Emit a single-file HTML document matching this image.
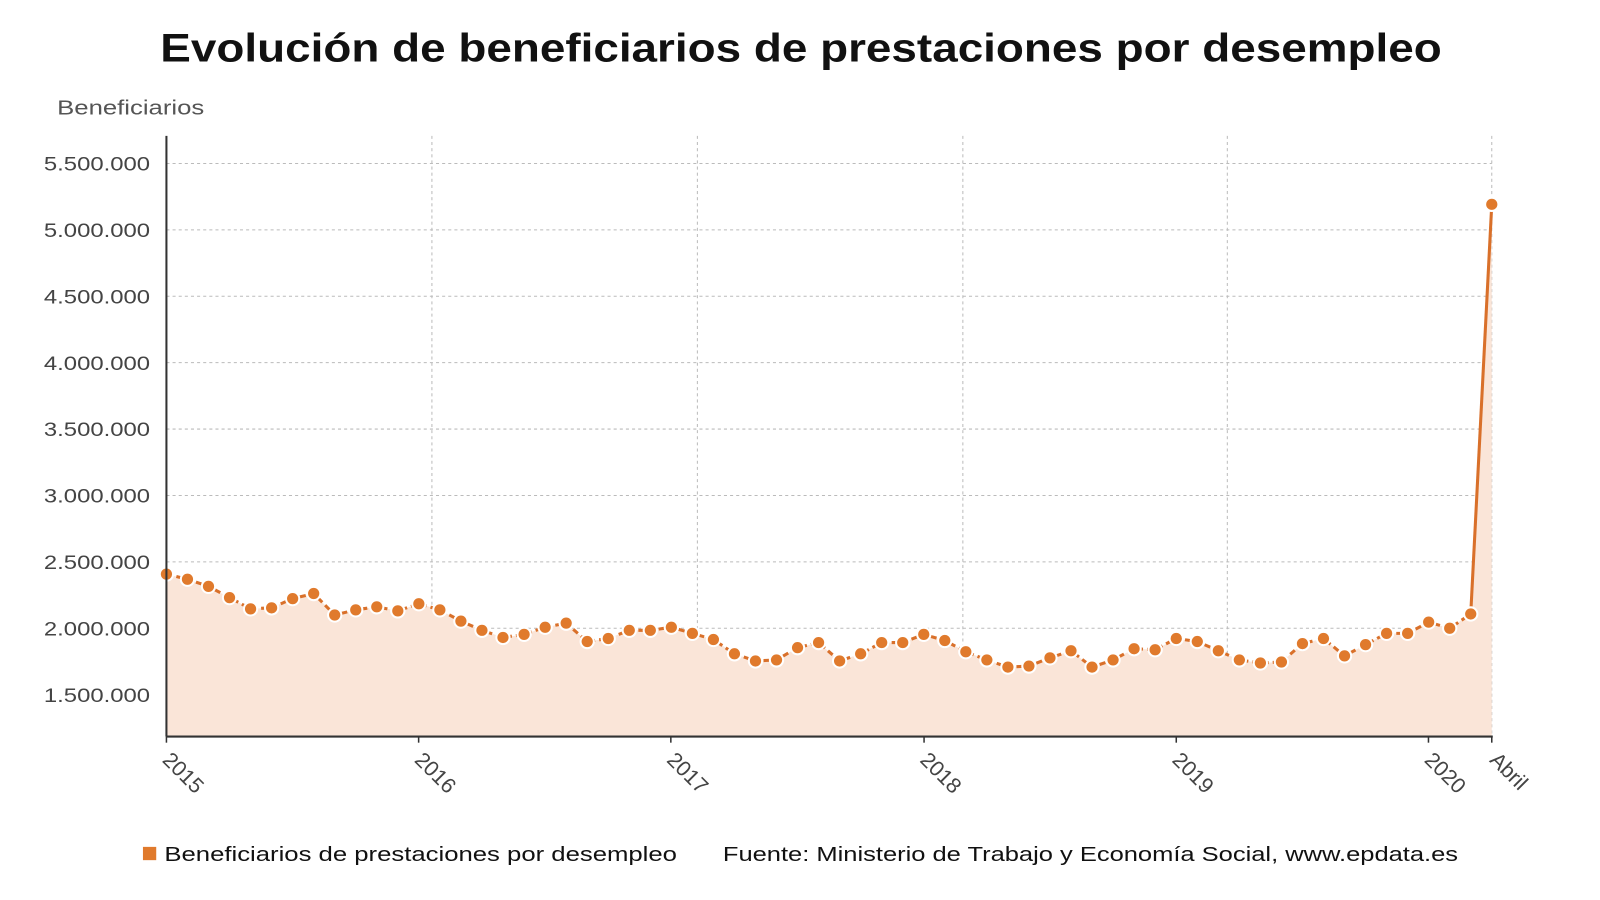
<!DOCTYPE html>
<html><head><meta charset="utf-8"><style>
html,body{margin:0;padding:0;background:#fff;width:1600px;height:900px;overflow:hidden}
svg{display:block}
text{font-family:"Liberation Sans",sans-serif}
</style></head><body>
<svg width="1600" height="900" viewBox="0 0 1567 881" preserveAspectRatio="none" xmlns="http://www.w3.org/2000/svg">
<text x="157" y="60" font-size="39" font-weight="bold" fill="#111" textLength="1255" lengthAdjust="spacingAndGlyphs">Evolución de beneficiarios de prestaciones por desempleo</text>
<text x="56" y="112" font-size="20" fill="#555" textLength="144" lengthAdjust="spacingAndGlyphs">Beneficiarios</text>
<g stroke="#bbb" stroke-width="1" stroke-dasharray="3,3">
<line x1="163" x2="1461" y1="160" y2="160"/><line x1="163" x2="1461" y1="225" y2="225"/>
<line x1="163" x2="1461" y1="290" y2="290"/><line x1="163" x2="1461" y1="355" y2="355"/>
<line x1="163" x2="1461" y1="420" y2="420"/><line x1="163" x2="1461" y1="485" y2="485"/>
<line x1="163" x2="1461" y1="550" y2="550"/><line x1="163" x2="1461" y1="615" y2="615"/>
<line x1="163" x2="1461" y1="680" y2="680"/>
<line x1="423" x2="423" y1="133" y2="720"/><line x1="683" x2="683" y1="133" y2="720"/>
<line x1="943" x2="943" y1="133" y2="720"/><line x1="1202" x2="1202" y1="133" y2="720"/>
<line x1="1461" x2="1461" y1="133" y2="720"/>
</g>
<g font-size="19" fill="#444">
<text x="43" y="167" textLength="104" lengthAdjust="spacingAndGlyphs">5.500.000</text><text x="43" y="232" textLength="104" lengthAdjust="spacingAndGlyphs">5.000.000</text>
<text x="43" y="297" textLength="104" lengthAdjust="spacingAndGlyphs">4.500.000</text><text x="43" y="362" textLength="104" lengthAdjust="spacingAndGlyphs">4.000.000</text>
<text x="43" y="427" textLength="104" lengthAdjust="spacingAndGlyphs">3.500.000</text><text x="43" y="492" textLength="104" lengthAdjust="spacingAndGlyphs">3.000.000</text>
<text x="43" y="557" textLength="104" lengthAdjust="spacingAndGlyphs">2.500.000</text><text x="43" y="622" textLength="104" lengthAdjust="spacingAndGlyphs">2.000.000</text>
<text x="43" y="687" textLength="104" lengthAdjust="spacingAndGlyphs">1.500.000</text>
</g>
<polygon fill="#fae5d8" points="163,562 183.6,567 204.2,574 224.8,585 245.4,596 266,595 286.6,586 307.2,581 327.8,602 348.4,597 369,594 389.6,598 410.2,591 430.8,597 451.4,608 472,617 492.6,624 513.3,621 533.9,614 554.5,610 575.1,628 595.7,625 616.3,617 636.9,617 657.5,614 678.1,620 698.7,626 719.3,640 739.9,647 760.5,646 781.1,634 801.7,629 822.3,647 842.9,640 863.5,629 884.1,629 904.7,621 925.3,627 945.9,638 966.5,646 987.1,653 1007.7,652 1028.3,644 1048.9,637 1069.5,653 1090.1,646 1110.7,635 1131.3,636 1152,625 1172.6,628 1193.2,637 1213.8,646 1234.4,649 1255,648 1275.6,630 1296.2,625 1316.8,642 1337.4,631 1358,620 1378.6,620 1399.2,609 1419.8,615 1440.4,601 1461,200 1461,721 163,721"/>
<polyline fill="none" stroke="#d9702a" stroke-width="3" stroke-dasharray="6,4" points="163,562 183.6,567 204.2,574 224.8,585 245.4,596 266,595 286.6,586 307.2,581 327.8,602 348.4,597 369,594 389.6,598 410.2,591 430.8,597 451.4,608 472,617 492.6,624 513.3,621 533.9,614 554.5,610 575.1,628 595.7,625 616.3,617 636.9,617 657.5,614 678.1,620 698.7,626 719.3,640 739.9,647 760.5,646 781.1,634 801.7,629 822.3,647 842.9,640 863.5,629 884.1,629 904.7,621 925.3,627 945.9,638 966.5,646 987.1,653 1007.7,652 1028.3,644 1048.9,637 1069.5,653 1090.1,646 1110.7,635 1131.3,636 1152,625 1172.6,628 1193.2,637 1213.8,646 1234.4,649 1255,648 1275.6,630 1296.2,625 1316.8,642 1337.4,631 1358,620 1378.6,620 1399.2,609 1419.8,615 1440.4,601"/>
<line x1="1440.4" y1="601" x2="1461" y2="200" stroke="#d9702a" stroke-width="3"/>
<g fill="#e07a2c" stroke="#fff" stroke-width="2">
<circle r="6.5" cx="163" cy="562"/><circle r="6.5" cx="183.6" cy="567"/><circle r="6.5" cx="204.2" cy="574"/><circle r="6.5" cx="224.8" cy="585"/><circle r="6.5" cx="245.4" cy="596"/><circle r="6.5" cx="266" cy="595"/><circle r="6.5" cx="286.6" cy="586"/><circle r="6.5" cx="307.2" cy="581"/><circle r="6.5" cx="327.8" cy="602"/><circle r="6.5" cx="348.4" cy="597"/><circle r="6.5" cx="369" cy="594"/><circle r="6.5" cx="389.6" cy="598"/>
<circle r="6.5" cx="410.2" cy="591"/><circle r="6.5" cx="430.8" cy="597"/><circle r="6.5" cx="451.4" cy="608"/><circle r="6.5" cx="472" cy="617"/><circle r="6.5" cx="492.6" cy="624"/><circle r="6.5" cx="513.3" cy="621"/><circle r="6.5" cx="533.9" cy="614"/><circle r="6.5" cx="554.5" cy="610"/><circle r="6.5" cx="575.1" cy="628"/><circle r="6.5" cx="595.7" cy="625"/><circle r="6.5" cx="616.3" cy="617"/><circle r="6.5" cx="636.9" cy="617"/>
<circle r="6.5" cx="657.5" cy="614"/><circle r="6.5" cx="678.1" cy="620"/><circle r="6.5" cx="698.7" cy="626"/><circle r="6.5" cx="719.3" cy="640"/><circle r="6.5" cx="739.9" cy="647"/><circle r="6.5" cx="760.5" cy="646"/><circle r="6.5" cx="781.1" cy="634"/><circle r="6.5" cx="801.7" cy="629"/><circle r="6.5" cx="822.3" cy="647"/><circle r="6.5" cx="842.9" cy="640"/><circle r="6.5" cx="863.5" cy="629"/><circle r="6.5" cx="884.1" cy="629"/>
<circle r="6.5" cx="904.7" cy="621"/><circle r="6.5" cx="925.3" cy="627"/><circle r="6.5" cx="945.9" cy="638"/><circle r="6.5" cx="966.5" cy="646"/><circle r="6.5" cx="987.1" cy="653"/><circle r="6.5" cx="1007.7" cy="652"/><circle r="6.5" cx="1028.3" cy="644"/><circle r="6.5" cx="1048.9" cy="637"/><circle r="6.5" cx="1069.5" cy="653"/><circle r="6.5" cx="1090.1" cy="646"/><circle r="6.5" cx="1110.7" cy="635"/><circle r="6.5" cx="1131.3" cy="636"/>
<circle r="6.5" cx="1152" cy="625"/><circle r="6.5" cx="1172.6" cy="628"/><circle r="6.5" cx="1193.2" cy="637"/><circle r="6.5" cx="1213.8" cy="646"/><circle r="6.5" cx="1234.4" cy="649"/><circle r="6.5" cx="1255" cy="648"/><circle r="6.5" cx="1275.6" cy="630"/><circle r="6.5" cx="1296.2" cy="625"/><circle r="6.5" cx="1316.8" cy="642"/><circle r="6.5" cx="1337.4" cy="631"/><circle r="6.5" cx="1358" cy="620"/><circle r="6.5" cx="1378.6" cy="620"/>
<circle r="6.5" cx="1399.2" cy="609"/><circle r="6.5" cx="1419.8" cy="615"/><circle r="6.5" cx="1440.4" cy="601"/><circle r="6.5" cx="1461" cy="200"/>
</g>
<line x1="163" x2="163" y1="133" y2="721" stroke="#333" stroke-width="2"/>
<line x1="163" x2="1462" y1="721" y2="721" stroke="#333" stroke-width="2"/>
<g stroke="#333" stroke-width="1.5">
<line x1="163" x2="163" y1="721" y2="727"/><line x1="410" x2="410" y1="721" y2="727"/>
<line x1="657" x2="657" y1="721" y2="727"/><line x1="905" x2="905" y1="721" y2="727"/>
<line x1="1152" x2="1152" y1="721" y2="727"/><line x1="1399" x2="1399" y1="721" y2="727"/>
<line x1="1461" x2="1461" y1="721" y2="727"/>
</g>
<g font-size="21" fill="#444">
<text transform="translate(158,745) rotate(45)">2015</text>
<text transform="translate(405,745) rotate(45)">2016</text>
<text transform="translate(652,745) rotate(45)">2017</text>
<text transform="translate(900,745) rotate(45)">2018</text>
<text transform="translate(1147,745) rotate(45)">2019</text>
<text transform="translate(1394,745) rotate(45)">2020</text>
<text transform="translate(1458,745) rotate(45)">Abril</text>
</g>
<rect x="140" y="829" width="13" height="13" fill="#e07a2c"/>
<text x="161" y="843" font-size="20" fill="#111" textLength="502" lengthAdjust="spacingAndGlyphs">Beneficiarios de prestaciones por desempleo</text>
<text x="708" y="843" font-size="20" fill="#111" textLength="720" lengthAdjust="spacingAndGlyphs">Fuente: Ministerio de Trabajo y Economía Social, www.epdata.es</text>
</svg>
</body></html>
